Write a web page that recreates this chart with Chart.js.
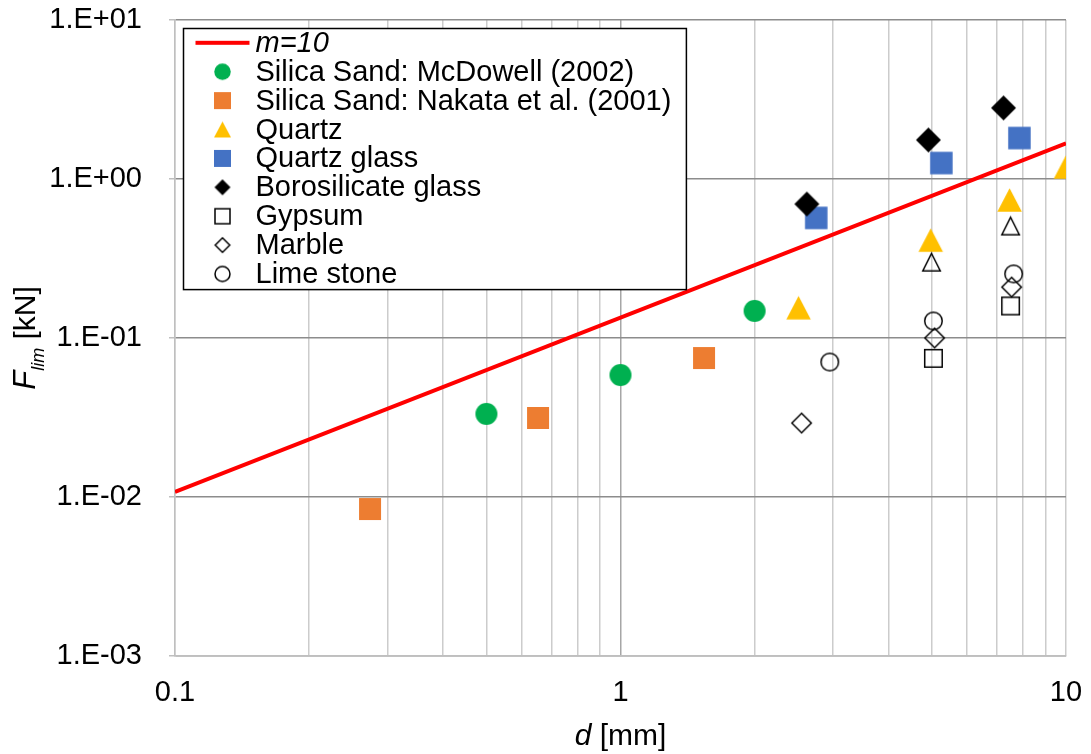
<!DOCTYPE html>
<html>
<head>
<meta charset="utf-8">
<title>Flim vs d</title>
<script src="https://cdn.jsdelivr.net/npm/chart.js@4/dist/chart.umd.min.js"></script>
<style>
  html, body { margin: 0; padding: 0; background: #fff; }
  #wrap { width: 1091px; height: 754px; }
  canvas { display: block; }
</style>
</head>
<body>
<div id="wrap"><canvas id="c" width="1091" height="754"></canvas></div>
<script>
// ---- data: particle diameter d [mm] and limit force F_lim [kN] ----
const lineD = [0.1, 10];
const lineF = [0.01075, 1.677];

const mcdowellD = [0.50, 1.00, 2.00];
const mcdowellF = [0.0333, 0.0585, 0.148];

const nakataD = [0.274, 0.653, 1.54];
const nakataF = [0.0084, 0.0314, 0.0748];

const quartzD = [2.51, 4.97, 7.47, 10.0];
const quartzF = [0.155, 0.413, 0.738, 1.19];

const quartzGlassD = [2.75, 5.25, 7.86];
const quartzGlassF = [0.569, 1.26, 1.81];

const boroD = [2.62, 4.91, 7.24];
const boroF = [0.696, 1.76, 2.80];

const gypsumD = [5.04, 7.51];
const gypsumF = [0.0745, 0.159];

const marbleD = [2.55, 5.07, 7.55];
const marbleF = [0.0292, 0.100, 0.209];

const limeD = [2.95, 5.04, 7.63];
const limeF = [0.0706, 0.128, 0.253];

const openTriD = [4.99, 7.51];
const openTriF = [0.300, 0.506];

// ---- axes ----
const xGridValues = [0.1, 0.2, 0.3, 0.4, 0.5, 0.6, 0.7, 0.8, 0.9,
                     1, 2, 3, 4, 5, 6, 7, 8, 9, 10];
const xLabelValues = [0.1, 1, 10];
const xLabelTexts = ['0.1', '1', '10'];
const yTickValues = [0.001, 0.01, 0.1, 1, 10];
const yTickLabels = ['1.E-03', '1.E-02', '1.E-01', '1.E+00', '1.E+01'];

const FONT = '"Liberation Sans", Arial, Helvetica, sans-serif';

function pts(xs, ys) { return xs.map((x, i) => ({ x: x, y: ys[i] })); }

// Marker bitmaps: shape drawn centred in its own canvas
function marker(shape, w, h, fill, stroke, lw) {
  lw = lw || 0;
  const pad = Math.ceil(lw) + 2;
  const c = document.createElement('canvas');
  c.width = Math.round(w + 2 * pad);
  c.height = Math.round(h + 2 * pad);
  const g = c.getContext('2d');
  const cx = c.width / 2, cy = c.height / 2;
  // for outlined shapes, w/h are outer sizes
  const pw = stroke ? w - lw : w, ph = stroke ? h - lw : h;
  g.beginPath();
  if (shape === 'circle') {
    g.ellipse(cx, cy, pw / 2, ph / 2, 0, 0, Math.PI * 2);
  } else if (shape === 'square') {
    g.rect(cx - pw / 2, cy - ph / 2, pw, ph);
  } else if (shape === 'triangle') {
    g.moveTo(cx, cy - ph / 2);
    g.lineTo(cx + pw / 2, cy + ph / 2);
    g.lineTo(cx - pw / 2, cy + ph / 2);
    g.closePath();
  } else if (shape === 'diamond') {
    g.moveTo(cx, cy - ph / 2);
    g.lineTo(cx + pw / 2, cy);
    g.lineTo(cx, cy + ph / 2);
    g.lineTo(cx - pw / 2, cy);
    g.closePath();
  } else if (shape === 'line') {
    g.rect(cx - pw / 2, cy - ph / 2, pw, ph);
  }
  if (fill) { g.fillStyle = fill; g.fill(); }
  if (stroke) { g.lineJoin = 'miter'; g.strokeStyle = stroke; g.lineWidth = lw; g.stroke(); }
  return c;
}

const GREEN = '#00b050', ORANGE = '#ed7d31', YELLOW = '#ffc000', BLUE = '#4472c4';

function series(label, xs, ys, plotMark, legendMark, idx) {
  return {
    type: 'scatter',
    label: label,
    data: pts(xs, ys),
    pointStyle: plotMark,
    pointRadius: 12,
    showLine: false,
    order: -idx,
    legendMarker: legendMark
  };
}

const datasets = [
  {
    type: 'line',
    label: 'm=10',
    data: pts(lineD, lineF),
    borderColor: '#ff0000',
    borderWidth: 4,
    pointRadius: 0,
    fill: false,
    tension: 0,
    order: 0,
    italicLabel: true,
    legendMarker: marker('line', 54, 4, '#ff0000')
  },
  series('Silica Sand: McDowell (2002)', mcdowellD, mcdowellF,
         marker('circle', 22, 22, GREEN), marker('circle', 16.5, 16.5, GREEN), 1),
  series('Silica Sand: Nakata et al. (2001)', nakataD, nakataF,
         marker('square', 22, 22, ORANGE), marker('square', 17, 17, ORANGE), 2),
  series('Quartz', quartzD, quartzF,
         marker('triangle', 24.5, 23.5, YELLOW), marker('triangle', 17, 16, YELLOW), 3),
  series('Quartz glass', quartzGlassD, quartzGlassF,
         marker('square', 22.5, 22.5, BLUE), marker('square', 17, 17, BLUE), 4),
  series('Borosilicate glass', boroD, boroF,
         marker('diamond', 25, 25, '#000'), marker('diamond', 16, 16, '#000'), 5),
  series('Gypsum', gypsumD, gypsumF,
         marker('square', 19, 19, null, '#000', 1.5), marker('square', 16.5, 16.5, null, '#000', 1.5), 6),
  series('Marble', marbleD, marbleF,
         marker('diamond', 21, 21, null, '#000', 1.5), marker('diamond', 16, 16, null, '#000', 1.5), 7),
  series('Lime stone', limeD, limeF,
         marker('circle', 19, 19, null, '#000', 1.5), marker('circle', 16.5, 16.5, null, '#000', 1.5), 8),
  series('', openTriD, openTriF,
         marker('triangle', 19, 19, null, '#000', 1.5), null, 9)
];

// Boxed legend and axis titles (mixed italic / subscript text)
const decorations = {
  id: 'decorations',
  afterDraw(chart) {
    const ctx = chart.ctx;
    const area = chart.chartArea;
    const entries = chart.data.datasets.filter(ds => ds.label);

    // legend
    const rowH = 28.9;
    const fs = 29;
    let maxW = 0;
    entries.forEach(ds => {
      ctx.font = (ds.italicLabel ? 'italic ' : '') + fs + 'px ' + FONT;
      maxW = Math.max(maxW, ctx.measureText(ds.label).width);
    });
    const bx = area.left + 8.5, by = area.top + 8.5;
    const bw = 72 + maxW + 15, bh = entries.length * rowH + 1;
    ctx.save();
    ctx.fillStyle = '#fff';
    ctx.fillRect(bx, by, bw, bh);
    ctx.strokeStyle = '#000';
    ctx.lineWidth = 1.5;
    ctx.strokeRect(bx, by, bw, bh);
    entries.forEach((ds, i) => {
      const cy = by + 14.3 + i * rowH;
      const m = ds.legendMarker;
      if (m) ctx.drawImage(m, bx + 39 - m.width / 2, cy - m.height / 2);
      ctx.font = (ds.italicLabel ? 'italic ' : '') + fs + 'px ' + FONT;
      ctx.fillStyle = '#000';
      ctx.textBaseline = 'middle';
      ctx.textAlign = 'left';
      ctx.fillText(ds.label, bx + 72, cy + 1);
    });
    ctx.restore();

    // x title: d [mm]
    ctx.save();
    ctx.fillStyle = '#000';
    ctx.textBaseline = 'alphabetic';
    ctx.textAlign = 'left';
    const tf = 30;
    ctx.font = 'italic ' + tf + 'px ' + FONT;
    const wD = ctx.measureText('d').width;
    ctx.font = tf + 'px ' + FONT;
    const wMM = ctx.measureText(' [mm]').width;
    const xc = (area.left + area.right) / 2;
    let x0 = xc - (wD + wMM) / 2;
    ctx.font = 'italic ' + tf + 'px ' + FONT;
    ctx.fillText('d', x0, 745);
    ctx.font = tf + 'px ' + FONT;
    ctx.fillText(' [mm]', x0 + wD, 745);
    ctx.restore();

    // y title: F_lim [kN]
    ctx.save();
    ctx.fillStyle = '#000';
    ctx.textBaseline = 'alphabetic';
    ctx.textAlign = 'left';
    const yc = (area.top + area.bottom) / 2;
    ctx.translate(35, yc);
    ctx.rotate(-Math.PI / 2);
    ctx.font = 'italic 31px ' + FONT;
    const wF = ctx.measureText('F').width;
    ctx.font = 'italic 18px ' + FONT;
    const wSub = ctx.measureText('lim').width;
    ctx.font = tf + 'px ' + FONT;
    const wKN = ctx.measureText(' [kN]').width;
    let s = -(wF + wSub + wKN) / 2;
    ctx.font = 'italic 31px ' + FONT;
    ctx.fillText('F', s, 0);
    ctx.font = 'italic 18px ' + FONT;
    ctx.fillText('lim', s + wF, 9);
    ctx.font = tf + 'px ' + FONT;
    ctx.fillText(' [kN]', s + wF + wSub, 0);
    ctx.restore();
  }
};

function isDecade(v) {
  const l = Math.log10(v);
  return Math.abs(l - Math.round(l)) < 1e-9;
}

// keep the plot rectangle fixed: the scales reserve no extra edge padding
function noEdgePadding(s) {
  s.paddingTop = 0;
  s.paddingBottom = 0;
  s.paddingLeft = 0;
  s.paddingRight = 0;
}

new Chart(document.getElementById('c'), {
  type: 'scatter',
  data: { datasets: datasets },
  options: {
    responsive: false,
    animation: false,
    devicePixelRatio: 1,
    events: [],
    layout: { padding: { top: 20, right: 25, left: 0, bottom: 0 } },
    scales: {
      x: {
        type: 'logarithmic',
        min: 0.1,
        max: 10,
        afterBuildTicks: (s) => { s.ticks = xGridValues.map(v => ({ value: v, major: isDecade(v) })); },
        afterFit: (s) => { s.height = 98; noEdgePadding(s); },
        ticks: {
          autoSkip: false,
          maxRotation: 0,
          padding: 20,
          color: '#000',
          font: { family: FONT, size: 29 },
          callback: (v) => {
            const i = xLabelValues.findIndex(t => Math.abs(t - v) < 1e-9);
            return i >= 0 ? xLabelTexts[i] : '';
          }
        },
        grid: {
          color: (c) => (c.tick && Math.abs(c.tick.value - 1) < 1e-9) ? '#a6a6a6' : '#cccccc',
          lineWidth: 1.5,
          drawTicks: false
        },
        border: { color: '#bfbfbf', width: 1.5 }
      },
      y: {
        type: 'logarithmic',
        min: 0.001,
        max: 10,
        afterBuildTicks: (s) => { s.ticks = yTickValues.map(v => ({ value: v, major: true })); },
        afterFit: (s) => { s.width = 175; noEdgePadding(s); },
        ticks: {
          autoSkip: false,
          padding: 27,
          color: '#000',
          font: { family: FONT, size: 29 },
          callback: (v) => {
            const i = yTickValues.findIndex(t => Math.abs(Math.log10(t) - Math.log10(v)) < 1e-9);
            return i >= 0 ? yTickLabels[i] : '';
          }
        },
        grid: {
          color: '#8c8c8c',
          lineWidth: 1.5,
          drawTicks: true,
          tickLength: 6,
          tickColor: '#bfbfbf'
        },
        border: { color: '#bfbfbf', width: 1.5 }
      }
    },
    plugins: {
      legend: { display: false },
      tooltip: { enabled: false },
      title: { display: false }
    }
  },
  plugins: [decorations]
});
</script>
</body>
</html>
